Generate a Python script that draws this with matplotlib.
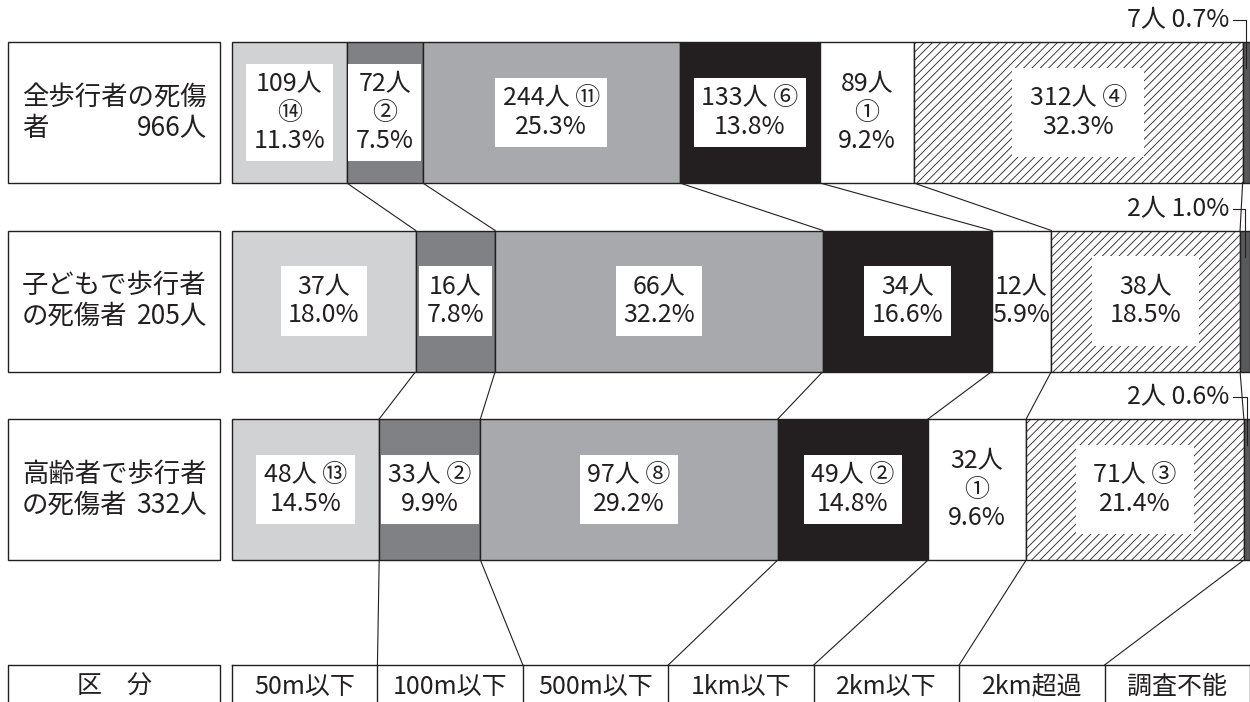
"""
    歩行中死傷者の自宅からの距離別構成 (帯グラフ) の再現。
"""

# 3rd party modules
import numpy as np
import matplotlib
matplotlib.use('Agg')
from matplotlib import pyplot as plt
from matplotlib.patches import Rectangle

plt.rcParams['font.family'] = ['Noto Sans CJK JP', 'DejaVu Sans']
plt.rcParams['hatch.linewidth'] = 0.6

# データ
categories = ['50m以下', '100m以下', '500m以下', '1km以下', '2km以下', '2km超過', '調査不能']
group_lines = [('全歩行者の死傷', '者 966人'),
               ('子どもで歩行者', 'の死傷者 205人'),
               ('高齢者で歩行者', 'の死傷者 332人')]

counts_all = [109, 72, 244, 133, 89, 312, 7]
pct_all = [11.3, 7.5, 25.3, 13.8, 9.2, 32.3, 0.7]
rank_all = ['⑭', '②', '⑪', '⑥', '①', '④', '']

counts_child = [37, 16, 66, 34, 12, 38, 2]
pct_child = [18.0, 7.8, 32.2, 16.6, 5.9, 18.5, 1.0]
rank_child = ['', '', '', '', '', '', '']

counts_elder = [48, 33, 97, 49, 32, 71, 2]
pct_elder = [14.5, 9.9, 29.2, 14.8, 9.6, 21.4, 0.6]
rank_elder = ['⑬', '②', '⑧', '②', '①', '③', '']

# 表示レイアウト (ラベルを3段に積むかどうか)
stacked = [[True, True, False, False, True, False, False],
           [False] * 7,
           [False, False, False, False, True, False, False]]

colors = ['#d1d2d4', '#808184', '#a7a9ac', '#231f20', '#ffffff', '#ffffff', '#58595b']
hatches = [None, None, None, None, None, '////', None]
LINE = '#231f20'

# 図の寸法 (ピクセル)
W, H = 1250, 702
X0_PX, X1_PX = 232, 1250
ROW0_PX, ROW_STEP_PX = 112.5, 188.5
BAR_H = 141 / ROW_STEP_PX
PPP = (X1_PX - X0_PX) / 100.0


def px(x):
    """ピクセルのx座標をデータ座標(%)に変換する。"""
    return (x - X0_PX) / PPP


def py(y):
    """ピクセルのy座標を行単位の座標に変換する。"""
    return (y - ROW0_PX) / ROW_STEP_PX


def main():
    fig = plt.figure(figsize=(W / 100, H / 100), dpi=100)
    ax = fig.add_axes([0, 0, 1, 1])
    ax.set_xlim(px(0), px(W))
    ax.set_ylim(py(H), py(0))
    ax.axis('off')

    counts = [counts_all, counts_child, counts_elder]
    pcts = [pct_all, pct_child, pct_elder]
    ranks = [rank_all, rank_child, rank_elder]

    bounds = []
    for i, row in enumerate(counts):
        shares = np.array(row) / sum(row) * 100
        lefts = np.concatenate([[0], np.cumsum(shares)[:-1]])
        bars = ax.barh(i, shares, left=lefts, height=BAR_H, color=colors,
                       edgecolor=LINE, linewidth=1.0, zorder=2)
        for bar, hatch in zip(bars, hatches):
            if hatch:
                bar.set_hatch(hatch)
        bounds.append(lefts[1:])

        # 区分ごとのラベル
        for j in range(len(row) - 1):
            c, p, r = row[j], pcts[i][j], ranks[i][j]
            if r and stacked[i][j]:
                label = f'{c}人\n{r}\n{p:.1f}%'
            elif r:
                label = f'{c}人 {r}\n{p:.1f}%'
            else:
                label = f'{c}人\n{p:.1f}%'
            if hatches[j]:
                bbox = dict(boxstyle='square,pad=0.7', fc='white', ec='none')
            elif colors[j] == '#ffffff':
                bbox = None  # 白地の区分は枠なし
            else:
                bbox = dict(boxstyle='square,pad=0.3', fc='white', ec='none')
            ax.text(lefts[j] + shares[j] / 2, i, label, ha='center', va='center',
                    multialignment='center', fontsize=18, linespacing=1.12,
                    color=LINE, zorder=4, bbox=bbox)

        # 調査不能 (右上の注記)
        top = i - BAR_H / 2
        ty = top - 0.115
        xc = lefts[-1] + shares[-1] / 2
        ax.text(px(1229), ty, f'{row[-1]}人 {pcts[i][-1]:.1f}%', ha='right', va='center',
                fontsize=18, color=LINE)
        ax.plot([px(1233), xc, xc], [ty, ty, top + 0.14], color=LINE, lw=0.8, zorder=5)

        # 左側の区分名の枠
        ax.add_patch(Rectangle((px(8), top), px(220) - px(8), BAR_H,
                               fc='white', ec=LINE, lw=1.0))
        line1, line2 = group_lines[i]
        left2, right2 = line2.split(' ')
        ax.text(px(22), i - 0.083, line1, ha='left', va='center', fontsize=19, color=LINE)
        ax.text(px(22), i + 0.083, left2, ha='left', va='center', fontsize=19, color=LINE)
        ax.text(px(207), i + 0.083, right2, ha='right', va='center', fontsize=19, color=LINE)

    # 帯の間をつなぐ線
    for i in range(len(counts) - 1):
        for a, b in zip(bounds[i], bounds[i + 1]):
            ax.plot([a, b], [i + BAR_H / 2, i + 1 - BAR_H / 2], color=LINE, lw=0.8, zorder=1)

    # 下の区分表
    table_top = py(665)
    table_bottom = py(H)
    table_text_y = py(687)
    cell_edges = np.arange(len(categories) + 1) * 100 / len(categories)
    for a, b in zip(bounds[-1], cell_edges[1:-1]):
        ax.plot([a, b], [len(counts) - 1 + BAR_H / 2, table_top], color=LINE, lw=0.8, zorder=1)

    ax.plot([px(8), px(8), px(220), px(220)], [table_bottom, table_top, table_top, table_bottom],
            color=LINE, lw=1.0)
    ax.text((px(8) + px(220)) / 2, table_text_y, '区　分', ha='center', va='center',
            fontsize=18, color=LINE)
    ax.plot([0, 100], [table_top, table_top], color=LINE, lw=1.0)
    for e in cell_edges:
        ax.plot([e, e], [table_top, table_bottom], color=LINE, lw=1.0)
    for k, name in enumerate(categories):
        ax.text((cell_edges[k] + cell_edges[k + 1]) / 2, table_text_y, name,
                ha='center', va='center', fontsize=18, color=LINE)

    fig.savefig('out.png', dpi=100, facecolor='white')


if __name__ == '__main__':
    main()
